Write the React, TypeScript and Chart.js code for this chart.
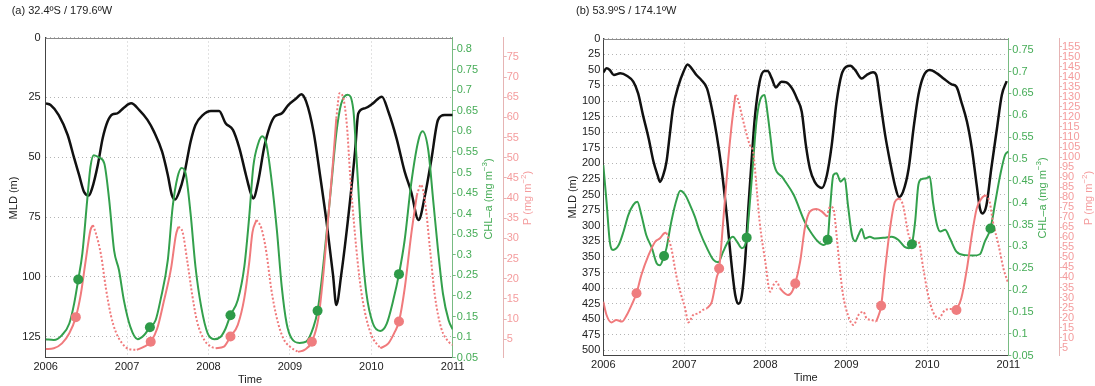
import React, { useEffect, useRef } from 'react';
import { Chart, registerables } from 'chart.js';

Chart.register(...registerables);

// ---------------- DATA : panel (a) 32.4ºS / 179.6ºW ----------------
const yearTicks = [2006, 2007, 2008, 2009, 2010, 2011];

const aMldTicks = [0, 25, 50, 75, 100, 125];
const aChlTicks = [0.05, 0.1, 0.15, 0.2, 0.25, 0.3, 0.35, 0.4, 0.45, 0.5, 0.55, 0.6, 0.65, 0.7, 0.75, 0.8];
const aPTicks = [5, 10, 15, 20, 25, 30, 35, 40, 45, 50, 55, 60, 65, 70, 75];

// [decimal year, MLD (m)]
const aMld = [[2006.00,27.5],[2006.06,28.2],[2006.16,32.4],[2006.27,40.7],[2006.35,50.4],[2006.41,57.4],[2006.47,64.4],[2006.53,66.0],[2006.57,63.0],[2006.64,53.2],[2006.70,42.1],[2006.76,35.1],[2006.82,32.1],[2006.88,31.7],[2006.96,29.3],[2007.05,27.5],[2007.15,30.3],[2007.25,34.4],[2007.33,39.3],[2007.43,47.7],[2007.50,57.4],[2007.55,65.8],[2007.59,67.6],[2007.64,64.4],[2007.70,57.4],[2007.78,43.5],[2007.84,36.5],[2007.93,32.4],[2008.03,30.7],[2008.13,30.7],[2008.21,35.8],[2008.30,38.6],[2008.38,46.3],[2008.46,57.4],[2008.52,65.1],[2008.55,67.2],[2008.61,60.2],[2008.69,44.9],[2008.81,33.1],[2008.90,31.7],[2008.98,28.2],[2009.08,25.4],[2009.14,23.7],[2009.20,26.8],[2009.29,39.3],[2009.37,57.4],[2009.45,76.9],[2009.53,99.2],[2009.57,111.7],[2009.63,99.2],[2009.72,74.1],[2009.80,47.7],[2009.84,31.7],[2009.92,29.6],[2010.02,27.5],[2010.13,24.7],[2010.21,31.0],[2010.31,42.1],[2010.41,56.0],[2010.49,64.4],[2010.58,76.2],[2010.66,65.8],[2010.74,50.5],[2010.82,34.4],[2010.90,32.4],[2011.00,32.4]];

// [decimal year, CHL-a (mg m-3)]
const aChl = [[2006.00,0.095],[2006.10,0.093],[2006.20,0.105],[2006.29,0.133],[2006.35,0.182],[2006.40,0.240],[2006.45,0.303],[2006.51,0.433],[2006.55,0.514],[2006.59,0.542],[2006.66,0.536],[2006.72,0.522],[2006.78,0.433],[2006.84,0.311],[2006.90,0.263],[2006.96,0.190],[2007.04,0.125],[2007.13,0.095],[2007.21,0.105],[2007.28,0.124],[2007.35,0.141],[2007.41,0.190],[2007.50,0.287],[2007.56,0.417],[2007.62,0.489],[2007.67,0.511],[2007.72,0.497],[2007.78,0.400],[2007.84,0.271],[2007.91,0.174],[2007.99,0.109],[2008.07,0.095],[2008.15,0.101],[2008.21,0.121],[2008.27,0.153],[2008.36,0.190],[2008.44,0.271],[2008.50,0.392],[2008.55,0.514],[2008.61,0.570],[2008.66,0.588],[2008.71,0.570],[2008.77,0.489],[2008.84,0.360],[2008.90,0.222],[2008.96,0.133],[2009.02,0.097],[2009.12,0.086],[2009.20,0.089],[2009.29,0.125],[2009.34,0.164],[2009.39,0.238],[2009.45,0.352],[2009.51,0.473],[2009.57,0.595],[2009.63,0.667],[2009.71,0.689],[2009.78,0.651],[2009.82,0.530],[2009.88,0.336],[2009.94,0.206],[2010.02,0.133],[2010.11,0.115],[2010.19,0.133],[2010.27,0.190],[2010.34,0.253],[2010.41,0.336],[2010.49,0.473],[2010.58,0.579],[2010.63,0.600],[2010.70,0.554],[2010.76,0.433],[2010.82,0.311],[2010.88,0.206],[2010.95,0.141],[2011.00,0.119]];

// [decimal year, P (mg m-2)] solid runs (null = gap)
const aPSolid = [[2006.00,2.6],[2006.10,2.8],[2006.20,4.0],[2006.29,6.5],[2006.37,10.5],[2006.43,16.0],[2006.49,24.3],[2006.55,32.1],[2006.58,33.3],[2006.80,null],[2007.12,2.4],[2007.21,3.2],[2007.29,4.4],[2007.37,7.7],[2007.45,14.3],[2007.54,22.6],[2007.60,30.9],[2007.63,32.9],[2007.80,null],[2008.09,2.8],[2008.19,3.2],[2008.27,5.7],[2008.36,8.6],[2008.44,15.2],[2008.50,24.0],[2008.54,31.5],[2008.59,34.6],[2008.80,null],[2009.10,1.9],[2009.18,2.4],[2009.27,4.4],[2009.35,10.2],[2009.41,20.9],[2009.47,35.0],[2009.53,49.0],[2009.57,59.8],[2009.80,null],[2010.11,2.8],[2010.21,4.0],[2010.29,6.9],[2010.34,9.4],[2010.41,17.6],[2010.49,30.9],[2010.56,40.8]];
// dotted runs
const aPDotted = [[2006.58,33.3],[2006.61,31.7],[2006.68,25.9],[2006.74,17.6],[2006.80,11.0],[2006.86,6.9],[2006.94,4.0],[2007.02,2.6],[2007.12,2.4],[2007.30,null],[2007.63,32.9],[2007.68,31.7],[2007.74,24.3],[2007.80,16.0],[2007.86,9.4],[2007.95,4.8],[2008.03,3.2],[2008.09,2.8],[2008.30,null],[2008.59,34.6],[2008.65,32.5],[2008.71,26.7],[2008.77,17.6],[2008.84,10.2],[2008.92,5.2],[2009.00,3.2],[2009.10,1.9],[2009.30,null],[2009.57,59.8],[2009.61,66.0],[2009.65,65.2],[2009.70,58.1],[2009.74,45.7],[2009.80,30.9],[2009.86,19.3],[2009.92,11.9],[2010.00,6.1],[2010.11,2.8],[2010.30,null],[2010.56,40.8],[2010.61,43.3],[2010.66,39.1],[2010.72,27.6],[2010.78,16.0],[2010.86,7.7],[2010.95,4.4],[2011.00,3.6]];

const aChlMarks = [[2006.40,0.240],[2007.28,0.124],[2008.27,0.153],[2009.34,0.164],[2010.34,0.253]];
const aPMarks = [[2006.37,10.5],[2007.29,4.4],[2008.27,5.7],[2009.27,4.4],[2010.34,9.4]];

// ---------------- DATA : panel (b) 53.9ºS / 174.1ºW ----------------
const bMldTicks = [0, 25, 50, 75, 100, 125, 150, 175, 200, 225, 250, 275, 300, 325, 350, 375, 400, 425, 450, 475, 500];
const bChlTicks = [0.05, 0.1, 0.15, 0.2, 0.25, 0.3, 0.35, 0.4, 0.45, 0.5, 0.55, 0.6, 0.65, 0.7, 0.75];
const bPTicks = [5, 10, 15, 20, 25, 30, 35, 40, 45, 50, 55, 60, 65, 70, 75, 80, 85, 90, 95, 100, 105, 110, 115, 120, 125, 130, 135, 140, 145, 150, 155];

const bMld = [[2006.00,54],[2006.04,47.6],[2006.08,50.3],[2006.13,58.3],[2006.21,55.6],[2006.29,59.4],[2006.37,69],[2006.43,87.8],[2006.49,122.6],[2006.56,160],[2006.62,197.5],[2006.67,219],[2006.70,229.7],[2006.74,219],[2006.78,197.5],[2006.82,154.7],[2006.86,111.9],[2006.93,74.4],[2006.99,53],[2007.04,41.2],[2007.09,47.6],[2007.15,58.3],[2007.21,66.3],[2007.28,79.7],[2007.34,111.9],[2007.40,154.7],[2007.46,208.2],[2007.52,277.9],[2007.58,358.2],[2007.63,411.8],[2007.67,425.1],[2007.71,411.8],[2007.75,358.2],[2007.79,272.5],[2007.83,197.5],[2007.87,127.9],[2007.93,69],[2007.99,51.9],[2008.03,52],[2008.08,63.7],[2008.13,78.1],[2008.20,69],[2008.26,70],[2008.33,79.7],[2008.39,95.8],[2008.45,117.2],[2008.50,170],[2008.55,208.2],[2008.61,229.7],[2008.70,239.3],[2008.76,219],[2008.82,170.8],[2008.88,101.2],[2008.94,58.3],[2009.00,45],[2009.05,43.3],[2009.11,50.3],[2009.19,63.7],[2009.25,58.3],[2009.33,54],[2009.37,58.3],[2009.42,101.2],[2009.48,154.7],[2009.54,197.5],[2009.60,235],[2009.65,253.8],[2009.70,245.7],[2009.77,208.2],[2009.83,144],[2009.89,90.4],[2009.95,61],[2010.03,50.3],[2010.12,55.6],[2010.20,63.7],[2010.30,73.3],[2010.36,77.1],[2010.42,101.2],[2010.49,133.3],[2010.55,176.1],[2010.61,235],[2010.65,272.5],[2010.68,280.5],[2010.73,267.2],[2010.79,208.2],[2010.86,144],[2010.92,90.4],[2010.98,68]];

const bChl = [[2006.00,0.486],[2006.04,0.402],[2006.08,0.311],[2006.12,0.292],[2006.19,0.303],[2006.25,0.334],[2006.31,0.372],[2006.37,0.395],[2006.42,0.402],[2006.47,0.372],[2006.53,0.326],[2006.60,0.296],[2006.66,0.261],[2006.70,0.257],[2006.75,0.278],[2006.78,0.296],[2006.84,0.357],[2006.91,0.410],[2006.95,0.427],[2007.01,0.418],[2007.07,0.395],[2007.13,0.368],[2007.19,0.334],[2007.28,0.296],[2007.36,0.269],[2007.42,0.264],[2007.48,0.288],[2007.54,0.311],[2007.60,0.322],[2007.65,0.311],[2007.71,0.296],[2007.77,0.320],[2007.81,0.402],[2007.85,0.494],[2007.89,0.585],[2007.93,0.631],[2007.99,0.646],[2008.03,0.601],[2008.07,0.540],[2008.10,0.494],[2008.22,0.456],[2008.35,0.418],[2008.49,0.355],[2008.57,0.330],[2008.65,0.311],[2008.72,0.303],[2008.77,0.315],[2008.80,0.387],[2008.84,0.463],[2008.88,0.467],[2008.93,0.448],[2008.98,0.456],[2009.02,0.395],[2009.07,0.326],[2009.11,0.312],[2009.15,0.326],[2009.19,0.340],[2009.23,0.318],[2009.29,0.322],[2009.35,0.318],[2009.48,0.320],[2009.56,0.322],[2009.64,0.315],[2009.72,0.299],[2009.77,0.296],[2009.81,0.305],[2009.85,0.357],[2009.89,0.441],[2009.93,0.454],[2009.99,0.456],[2010.03,0.460],[2010.07,0.402],[2010.12,0.349],[2010.16,0.334],[2010.22,0.338],[2010.28,0.318],[2010.36,0.288],[2010.47,0.280],[2010.57,0.279],[2010.65,0.282],[2010.71,0.311],[2010.78,0.341],[2010.84,0.402],[2010.90,0.463],[2010.96,0.509],[2011.00,0.517]];

const bPSolid = [[2006.00,27.9],[2006.04,21.3],[2006.10,17.6],[2006.16,18.8],[2006.23,18.0],[2006.29,21.3],[2006.35,26.3],[2006.41,32.1],[2006.47,41.2],[2006.56,51.2],[2006.64,57.8],[2006.70,59.5],[2006.75,62.0],[2006.78,62.3],[2007.00,null],[2007.28,24.6],[2007.34,27.9],[2007.40,40.0],[2007.43,44.5],[2007.48,67.8],[2007.54,97.7],[2007.58,114.3],[2007.63,130.9],[2007.90,null],[2008.18,34.6],[2008.24,32.1],[2008.28,31.2],[2008.33,32.9],[2008.37,37.0],[2008.43,47.9],[2008.49,65.0],[2008.55,72.8],[2008.63,74.1],[2008.70,72.8],[2008.76,70.3],[2009.00,null],[2009.37,18.0],[2009.43,25.9],[2009.48,44.5],[2009.54,64.5],[2009.60,77.7],[2009.66,79.4],[2010.00,null],[2010.36,23.8],[2010.42,29.6],[2010.49,44.5],[2010.55,61.1],[2010.61,74.4],[2010.67,79.4],[2010.72,81.1]];

const bPDotted = [[2006.78,62.3],[2006.84,54.5],[2006.90,41.2],[2006.95,32.9],[2007.01,24.6],[2007.05,17.6],[2007.11,21.3],[2007.17,22.1],[2007.23,23.8],[2007.28,24.6],[2007.40,null],[2007.63,130.9],[2007.65,130.1],[2007.69,124.3],[2007.75,114.3],[2007.81,106],[2007.85,102.7],[2007.89,86],[2007.93,67.8],[2008.00,47.9],[2008.06,32.9],[2008.10,36.2],[2008.14,37.9],[2008.18,34.6],[2008.40,null],[2008.76,70.3],[2008.80,75.2],[2008.84,74.4],[2008.88,61.1],[2008.92,44.5],[2008.96,31.2],[2009.02,21.3],[2009.09,16.3],[2009.15,21.3],[2009.21,22.9],[2009.25,19.6],[2009.31,18.8],[2009.37,18.0],[2009.50,null],[2009.66,79.4],[2009.70,76.1],[2009.77,61.1],[2009.83,57.8],[2009.89,57.8],[2009.95,44.5],[2010.01,31.2],[2010.07,22.9],[2010.14,19.6],[2010.22,23.8],[2010.30,24.3],[2010.36,23.8],[2010.50,null],[2010.72,81.1],[2010.77,77.7],[2010.81,67.8],[2010.88,56.1],[2010.94,44.5],[2011.00,37.0]];

const bChlMarks = [[2006.75,0.278],[2007.77,0.320],[2008.77,0.315],[2009.81,0.305],[2010.78,0.341]];
const bPMarks = [[2006.41,32.1],[2007.43,44.5],[2008.37,37.0],[2009.43,25.9],[2010.36,23.8]];

// ---------------- STYLE ----------------
const FONT = "'Liberation Sans', Arial, Helvetica, sans-serif";
const C_BLACK = '#111111';
const C_GREEN = '#33a04c';
const C_GREEN_TXT = '#46ac57';
const C_GREEN_AX = '#78bb82';
const C_PINK = '#f07a7c';
const C_PINK_TXT = '#f49c9d';
const C_PINK_AX = '#e6b4b4';
const C_GRID = '#b4b4b4';
const C_TXT = '#222222';

Chart.defaults.font.family = FONT;

type Part = [string, boolean];
type Rich = { parts: Part[]; x: number; y: number; rot: number; color: string };

const pts = (arr: any[]) => arr.map((p) => ({ x: p[0], y: p[1] }));
const HALF = -Math.PI / 2;

function drawRich(ctx: CanvasRenderingContext2D, r: Rich) {
  const base = `11px ${FONT}`;
  const sup = `8px ${FONT}`;
  let total = 0;
  const widths = r.parts.map(([s, isSup]) => {
    ctx.font = isSup ? sup : base;
    const w = ctx.measureText(s).width;
    total += w;
    return w;
  });
  ctx.save();
  ctx.translate(r.x, r.y);
  ctx.rotate(r.rot);
  ctx.fillStyle = r.color;
  ctx.textBaseline = 'middle';
  ctx.textAlign = 'left';
  let cx = -total / 2;
  r.parts.forEach(([s, isSup], i) => {
    ctx.font = isSup ? sup : base;
    ctx.fillText(s, cx, isSup ? -4 : 0);
    cx += widths[i];
  });
  ctx.restore();
}

interface Panel {
  left: number; width: number;
  padTop: number; xH: number; yW: number; chlW: number; pW: number; yPad: number;
  mldMax: number; chlMin: number; chlMax: number; pMin: number; pMax: number;
  mldTicks: number[]; chlTicks: number[]; pTicks: number[];
  mld: any[]; chl: any[]; pSolid: any[]; pDotted: any[]; chlMarks: any[]; pMarks: any[];
  titles: Rich[];
}

const chlLabel: Part[] = [['CHL\u2013a (mg m', false], ['\u22123', true], [')', false]];
const pLabel: Part[] = [['P (mg m', false], ['\u22122', true], [')', false]];
const mldLabel: Part[] = [['MLD (m)', false]];
const timeLabel: Part[] = [['Time', false]];

const panelA: Panel = {
  left: 0, width: 548,
  padTop: 37.5, xH: 28.3, yW: 45.7, chlW: 51, pW: 44.3, yPad: 5,
  mldMax: 133.7, chlMin: 0.05, chlMax: 0.828, pMin: 0.45, pMax: 79.8,
  mldTicks: aMldTicks, chlTicks: aChlTicks, pTicks: aPTicks,
  mld: aMld, chl: aChl, pSolid: aPSolid, pDotted: aPDotted, chlMarks: aChlMarks, pMarks: aPMarks,
  titles: [
    { parts: mldLabel, x: 13.5, y: 198, rot: HALF, color: C_TXT },
    { parts: timeLabel, x: 250, y: 380, rot: 0, color: C_TXT },
    { parts: chlLabel, x: 489, y: 199, rot: HALF, color: C_GREEN_TXT },
    { parts: pLabel, x: 528, y: 198, rot: HALF, color: C_PINK_TXT },
  ],
};

const panelB: Panel = {
  left: 548, width: 547,
  padTop: 38.7, xH: 30.3, yW: 55.3, chlW: 50.7, pW: 36, yPad: 3,
  mldMax: 508.5, chlMin: 0.05, chlMax: 0.775, pMin: 1.0, pMax: 159,
  mldTicks: bMldTicks, chlTicks: bChlTicks, pTicks: bPTicks,
  mld: bMld, chl: bChl, pSolid: bPSolid, pDotted: bPDotted, chlMarks: bChlMarks, pMarks: bPMarks,
  titles: [
    { parts: mldLabel, x: 25, y: 197, rot: HALF, color: C_TXT },
    { parts: timeLabel, x: 257.7, y: 378, rot: 0, color: C_TXT },
    { parts: chlLabel, x: 494.7, y: 198, rot: HALF, color: C_GREEN_TXT },
    { parts: pLabel, x: 541, y: 198, rot: HALF, color: C_PINK_TXT },
  ],
};

const fmt = (v: any) => String(v);

function makeConfig(p: Panel): any {
  const decor = {
    id: 'decor',
    afterDraw(chart: any) {
      const ctx = chart.ctx as CanvasRenderingContext2D;
      const ca = chart.chartArea;
      ctx.save();
      ctx.strokeStyle = '#8a8a8a';
      ctx.lineWidth = 1;
      ctx.beginPath();
      ctx.moveTo(ca.left, Math.round(ca.top) + 0.5);
      ctx.lineTo(ca.right, Math.round(ca.top) + 0.5);
      ctx.stroke();
      ctx.restore();
      p.titles.forEach((t) => drawRich(ctx, t));
    },
  };

  const lineBase = {
    pointRadius: 0,
    pointHoverRadius: 0,
    cubicInterpolationMode: 'monotone',
    spanGaps: false,
    fill: false,
  };

  return {
    type: 'line',
    data: {
      datasets: [
        { ...lineBase, data: pts(p.chlMarks), yAxisID: 'yChl', showLine: false, pointRadius: 5, pointBackgroundColor: '#2e9a48', pointBorderWidth: 0, borderColor: '#2e9a48' },
        { ...lineBase, data: pts(p.pMarks), yAxisID: 'yP', showLine: false, pointRadius: 5, pointBackgroundColor: '#ef7d7f', pointBorderWidth: 0, borderColor: '#ef7d7f' },
        { ...lineBase, data: pts(p.pDotted), yAxisID: 'yP', borderColor: C_PINK, borderWidth: 2, borderDash: [2, 2] },
        { ...lineBase, data: pts(p.pSolid), yAxisID: 'yP', borderColor: C_PINK, borderWidth: 2 },
        { ...lineBase, data: pts(p.chl), yAxisID: 'yChl', borderColor: C_GREEN, borderWidth: 2 },
        { ...lineBase, data: pts(p.mld), yAxisID: 'y', borderColor: C_BLACK, borderWidth: 2.5 },
      ],
    },
    options: {
      animation: false,
      responsive: false,
      events: [],
      layout: { padding: { top: p.padTop, left: 0, right: 0, bottom: 0 } },
      plugins: { legend: { display: false }, tooltip: { enabled: false }, title: { display: false } },
      scales: {
        x: {
          type: 'linear', position: 'bottom', min: 2006, max: 2011,
          afterBuildTicks: (s: any) => { s.ticks = yearTicks.map((v) => ({ value: v })); },
          afterFit: (s: any) => { s.height = p.xH; },
          grid: { color: '#c4c4c4', drawTicks: false, lineWidth: 1 },
          border: { color: '#444', width: 1, dash: [1, 3] },
          ticks: { padding: 3, color: C_TXT, font: { size: 11 }, autoSkip: false, maxRotation: 0, callback: fmt },
        },
        y: {
          type: 'linear', position: 'left', reverse: true, min: 0, max: p.mldMax,
          afterBuildTicks: (s: any) => { s.ticks = p.mldTicks.map((v) => ({ value: v })); },
          afterFit: (s: any) => { s.width = p.yW; },
          grid: { color: C_GRID, drawTicks: false, lineWidth: 1 },
          border: { color: '#444', width: 1, dash: [1, 3] },
          ticks: { padding: p.yPad, color: C_TXT, font: { size: 11 }, autoSkip: false, callback: fmt },
        },
        yChl: {
          type: 'linear', position: 'right', weight: 1, min: p.chlMin, max: p.chlMax,
          afterBuildTicks: (s: any) => { s.ticks = p.chlTicks.map((v) => ({ value: v })); },
          afterFit: (s: any) => { s.width = p.chlW; },
          grid: { drawOnChartArea: false, color: C_GREEN_AX, tickLength: 3 },
          border: { color: C_GREEN_AX, width: 1 },
          ticks: { padding: 1, color: C_GREEN_TXT, font: { size: 11 }, autoSkip: false, callback: fmt },
        },
        yP: {
          type: 'linear', position: 'right', weight: 2, min: p.pMin, max: p.pMax,
          afterBuildTicks: (s: any) => { s.ticks = p.pTicks.map((v) => ({ value: v })); },
          afterFit: (s: any) => { s.width = p.pW; },
          grid: { drawOnChartArea: false, color: C_PINK_AX, tickLength: 3 },
          border: { color: C_PINK_AX, width: 1 },
          ticks: { padding: 0, color: C_PINK_TXT, font: { size: 11 }, autoSkip: false, callback: fmt },
        },
      },
    },
    plugins: [decor],
  };
}

function PanelChart({ panel }: { panel: Panel }) {
  const ref = useRef<HTMLCanvasElement | null>(null);
  useEffect(() => {
    if (!ref.current) return;
    const chart = new Chart(ref.current, makeConfig(panel));
    return () => chart.destroy();
  }, [panel]);
  return (
    <canvas
      ref={ref}
      width={panel.width}
      height={386}
      style={{ position: 'absolute', left: panel.left, top: 0, width: panel.width, height: 386 }}
    />
  );
}

const titleStyle: React.CSSProperties = {
  position: 'absolute', top: 3, fontSize: 11, lineHeight: '15px', color: C_TXT,
  whiteSpace: 'nowrap', fontFamily: FONT,
};

export default function App() {
  return (
    <div style={{ position: 'fixed', left: 0, top: 0, width: 1095, height: 386, background: '#fff', overflow: 'hidden' }}>
      <PanelChart panel={panelA} />
      <PanelChart panel={panelB} />
      <div style={{ ...titleStyle, left: 11.7 }}>(a) 32.4ºS / 179.6ºW</div>
      <div style={{ ...titleStyle, left: 576 }}>(b) 53.9ºS / 174.1ºW</div>
    </div>
  );
}
